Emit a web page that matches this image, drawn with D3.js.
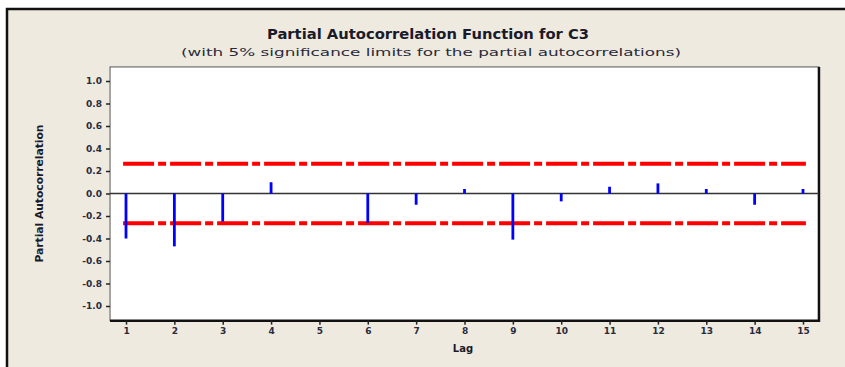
<!DOCTYPE html>
<html lang="en">
<head>
<meta charset="UTF-8">
<title>Partial Autocorrelation Function for C3</title>
<script src="https://d3js.org/d3.v7.min.js"></script>
<style>
    body { margin: 0; padding: 0; background: #fff; }
    svg { display: block; font-family: 'DejaVu Sans', sans-serif; }
</style>
</head>
<body>
<div id="chart"></div>
<script>
    // PACF values
    const lags = [1, 2, 3, 4, 5, 6, 7, 8, 9, 10, 11, 12, 13, 14, 15];
    const pacf = [-0.40, -0.47, -0.25, 0.10, 0.00, -0.26, -0.10, 0.04, -0.41, -0.07, 0.06, 0.09, 0.04, -0.10, 0.04];
    const limits = [0.265, -0.265];
    const yTicks = [1.0, 0.8, 0.6, 0.4, 0.2, 0.0, -0.2, -0.4, -0.6, -0.8, -1.0];
    const yTickLabels = ['1.0', '0.8', '0.6', '0.4', '0.2', '0.0', '-0.2', '-0.4', '-0.6', '-0.8', '-1.0'];

    const width = 845, height = 367;

    const x = d3.scaleLinear().domain([1, 15]).range([126, 803]);
    const y = d3.scaleLinear().domain([-1, 1]).range([306, 81]);

    // plot box extents in data units
    const xMin = 0.67, xMax = 15.33, yMin = -1.13, yMax = 1.125;

    const svg = d3.select('#chart').append('svg')
        .attr('width', width)
        .attr('height', height);

    // beige frame, only top and left edges visible
    svg.append('rect')
        .attr('x', 7).attr('y', 9)
        .attr('width', width).attr('height', height)
        .attr('fill', '#eeeae0');
    svg.append('path')
        .attr('d', `M7,${height} V9 H${width}`)
        .attr('fill', 'none')
        .attr('stroke', '#111')
        .attr('stroke-width', 2.5);

    // titles
    svg.append('text')
        .attr('x', 428).attr('y', 39)
        .attr('text-anchor', 'middle')
        .attr('textLength', 322)
        .attr('lengthAdjust', 'spacingAndGlyphs')
        .style('font-size', '14px')
        .style('font-weight', 'bold')
        .style('fill', '#1a1a2a')
        .text('Partial Autocorrelation Function for C3');

    svg.append('text')
        .attr('x', 431).attr('y', 56)
        .attr('text-anchor', 'middle')
        .attr('textLength', 500)
        .attr('lengthAdjust', 'spacingAndGlyphs')
        .style('font-size', '10px')
        .style('fill', '#2a2a3a')
        .text('(with 5% significance limits for the partial autocorrelations)');

    // plot box
    const boxL = x(xMin), boxR = x(xMax), boxT = y(yMax), boxB = y(yMin);
    svg.append('rect')
        .attr('x', boxL).attr('y', boxT)
        .attr('width', boxR - boxL).attr('height', boxB - boxT)
        .attr('fill', '#fff')
        .attr('stroke', '#555')
        .attr('stroke-width', 1);
    svg.append('path')
        .attr('d', `M${boxL},${boxB} H${boxR} V${boxT}`)
        .attr('fill', 'none')
        .attr('stroke', '#111')
        .attr('stroke-width', 2.5);

    // y axis
    const yAxis = svg.append('g')
        .attr('transform', `translate(${boxL},0)`)
        .call(d3.axisLeft(y)
            .tickValues(yTicks)
            .tickSize(4)
            .tickPadding(4)
            .tickFormat((d, i) => yTickLabels[i]));
    yAxis.select('.domain').remove();
    yAxis.selectAll('line').attr('stroke', '#222').attr('stroke-width', 1.5);
    yAxis.selectAll('text')
        .style('font-size', '9px')
        .style('font-weight', 'bold')
        .style('fill', '#2a2a3a')
        .style('font-family', "'DejaVu Sans', sans-serif");

    // x axis
    const xAxis = svg.append('g')
        .attr('transform', `translate(0,${boxB})`)
        .call(d3.axisBottom(x)
            .tickValues(lags)
            .tickSize(4)
            .tickPadding(3)
            .tickFormat(d3.format('d')));
    xAxis.select('.domain').remove();
    xAxis.selectAll('line').attr('stroke', '#222').attr('stroke-width', 1.5);
    xAxis.selectAll('text')
        .style('font-size', '9px')
        .style('font-weight', 'bold')
        .style('fill', '#2a2a3a')
        .style('font-family', "'DejaVu Sans', sans-serif");

    // axis titles
    svg.append('text')
        .attr('x', 463).attr('y', 352)
        .attr('text-anchor', 'middle')
        .style('font-size', '10px')
        .style('font-weight', 'bold')
        .style('fill', '#1a1a2a')
        .text('Lag');

    svg.append('text')
        .attr('transform', `translate(43,${y(0)}) rotate(-90)`)
        .attr('text-anchor', 'middle')
        .attr('textLength', 138)
        .attr('lengthAdjust', 'spacingAndGlyphs')
        .style('font-size', '10px')
        .style('font-weight', 'bold')
        .style('fill', '#1a1a2a')
        .text('Partial Autocorrelation');

    // zero line
    svg.append('line')
        .attr('x1', boxL).attr('x2', boxR)
        .attr('y1', y(0)).attr('y2', y(0))
        .attr('stroke', '#333')
        .attr('stroke-width', 1.5);

    // significance limits
    svg.selectAll('.limit')
        .data(limits)
        .join('line')
        .attr('class', 'limit')
        .attr('x1', x(0.94)).attr('x2', x(15.06))
        .attr('y1', d => y(d)).attr('y2', d => y(d))
        .attr('stroke', '#ff0000')
        .attr('stroke-width', 4)
        .attr('stroke-dasharray', '31,4,8,4');

    // PACF spikes
    svg.selectAll('.spike')
        .data(lags)
        .join('line')
        .attr('class', 'spike')
        .attr('x1', d => x(d)).attr('x2', d => x(d))
        .attr('y1', y(0))
        .attr('y2', (d, i) => y(pacf[i]))
        .attr('stroke', '#0000ff')
        .attr('stroke-width', 2.8);
</script>
</body>
</html>
